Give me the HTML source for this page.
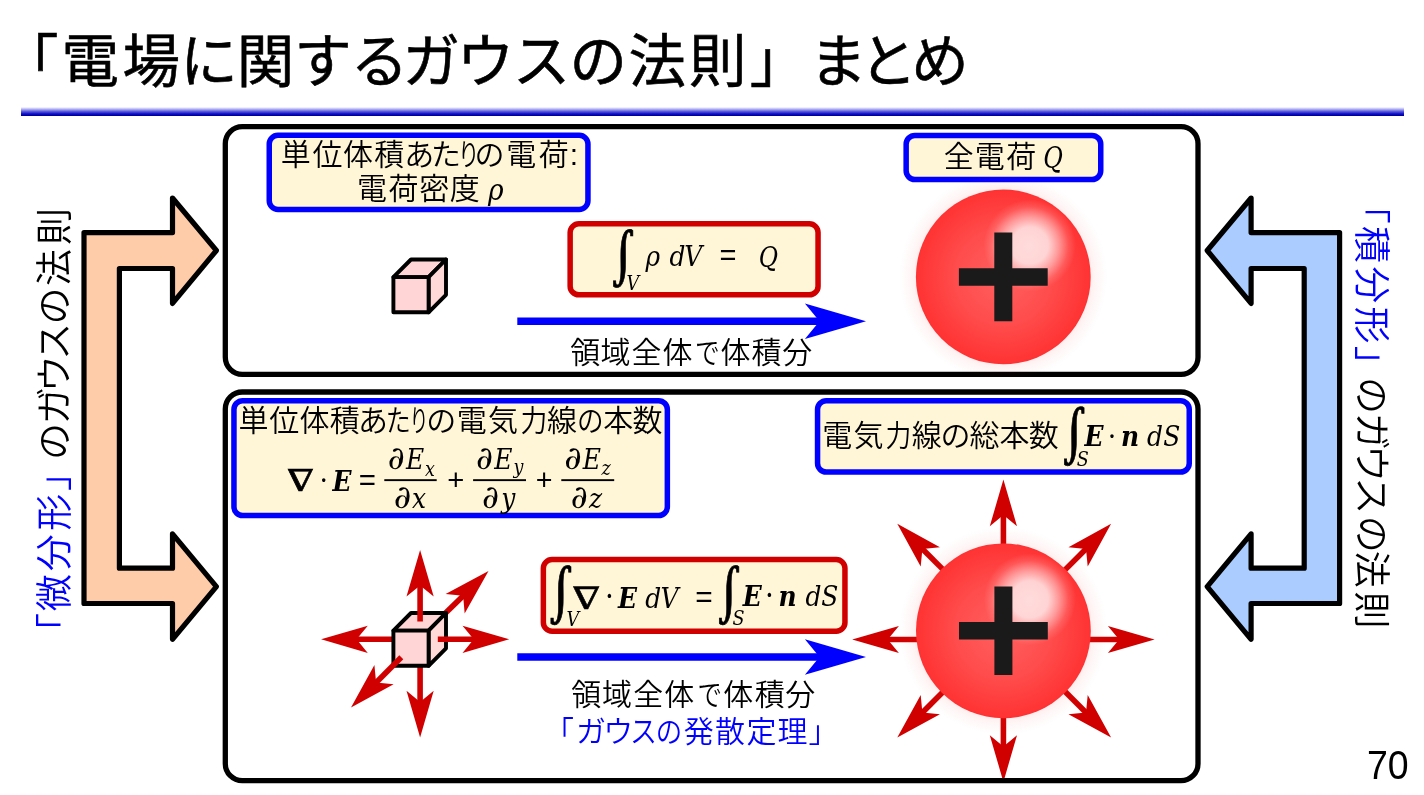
<!DOCTYPE html>
<html lang="ja"><head><meta charset="utf-8"><title>「電場に関するガウスの法則」 まとめ</title>
<style>
html,body{margin:0;padding:0;background:#fff;}
body{width:1424px;height:795px;overflow:hidden;position:relative;font-family:"Liberation Sans","Noto Sans CJK JP",sans-serif;}
svg{position:absolute;left:0;top:0;display:block;will-change:transform;}
text{font-family:"Liberation Sans","Noto Sans CJK JP",sans-serif;white-space:pre;}
.mi{font-family:"DejaVu Serif Condensed","DejaVu Serif","Liberation Serif",serif;font-style:italic;}
.mbi{font-family:"DejaVu Serif Condensed","DejaVu Serif","Liberation Serif",serif;font-style:italic;font-weight:bold;}
.mb{font-family:"DejaVu Serif Condensed","DejaVu Serif","Liberation Serif",serif;font-weight:bold;}
.mr{font-family:"DejaVu Serif Condensed","DejaVu Serif","Liberation Serif",serif;}
.mg{font-family:"DejaVu Math TeX Gyre","DejaVu Serif","Liberation Serif",serif;}
.ms{font-family:"Liberation Sans",sans-serif;}
.mlb{font-family:"Liberation Serif","DejaVu Serif",serif;font-weight:bold;}
</style></head><body>
<svg width="1424" height="795" viewBox="0 0 1424 795">
<defs>
<linearGradient id="rule" x1="0" y1="0" x2="0" y2="1">
<stop offset="0" stop-color="#ffffff"/><stop offset="0.14" stop-color="#d4d4f7"/><stop offset="0.5" stop-color="#5858dc"/><stop offset="0.76" stop-color="#1010c8"/><stop offset="0.9" stop-color="#0000b4"/><stop offset="1" stop-color="#000088"/>
</linearGradient>
<radialGradient id="ball" cx="0.5" cy="0.5" r="0.5">
<stop offset="0" stop-color="#ff6060"/><stop offset="0.55" stop-color="#ff4c4c"/><stop offset="1" stop-color="#ff3232"/>
</radialGradient>
<radialGradient id="hl" cx="0.5" cy="0.5" r="0.5">
<stop offset="0" stop-color="#ffffff" stop-opacity="0.8"/><stop offset="0.4" stop-color="#ffffff" stop-opacity="0.76"/><stop offset="0.63" stop-color="#ffffff" stop-opacity="0.45"/><stop offset="0.84" stop-color="#ffffff" stop-opacity="0.13"/><stop offset="1" stop-color="#ffffff" stop-opacity="0"/>
</radialGradient>
<radialGradient id="glow" cx="0.5" cy="0.5" r="0.5">
<stop offset="0.84" stop-color="#ff3030" stop-opacity="0.08"/><stop offset="0.9" stop-color="#ff3030" stop-opacity="0.04"/><stop offset="1" stop-color="#ff3030" stop-opacity="0"/>
</radialGradient>
<g id="sphere">
<circle cx="0" cy="0" r="104" fill="url(#glow)"/>
<circle cx="0" cy="0" r="87.4" fill="url(#ball)"/>
<circle cx="26.5" cy="-31.5" r="46" fill="url(#hl)"/>
<path d="M-44.4 -8.7 H-9 V-44.3 H9 V-8.7 H44.4 V8.8 H9 V44.3 H-9 V8.8 H-44.4 Z" fill="#1a1a1a"/>
</g>
<g id="cube" stroke="#000" stroke-width="3.9" stroke-linejoin="round" fill="#ffd5d5">
<path d="M393.4 277.1 L411 259.5 L446 259.5 L428.6 277.1 Z"/>
<path d="M428.6 277.1 L446 259.5 L446 294.8 L428.6 312.3 Z" fill="#ffd8d8"/>
<rect x="393.4" y="277.1" width="35.2" height="35.2"/>
</g>
</defs>

<text x="1.07 61.49 122.39 180.28 236.73 294.28 350.86 402.49 456.82 512.75 569.38 628.61 688.94 749.68 790 809.46 859.48 911.29" y="82.2" font-size="57.5" fill="#000" stroke="#000" stroke-width="0.6">「電場に関するガウスの法則」 まとめ</text>
<rect x="21" y="107" width="1383" height="9" fill="url(#rule)"/>
<path d="M84 232.6 L172.5 232.6 L172.5 198 L216.4 250.5 L172.5 303.4 L172.5 268.5 L119.4 268.5 L119.4 568.2 L172.5 568.2 L172.5 533.8 L216.4 586.6 L172.5 639.3 L172.5 603.5 L84 603.5 Z" fill="#ffccaa" stroke="#000" stroke-width="5.2" stroke-linejoin="round"/>
<path d="M1339.6 232.6 L1251.1 232.6 L1251.1 198 L1207.2 250.5 L1251.1 303.4 L1251.1 268.5 L1304.2 268.5 L1304.2 568.2 L1251.1 568.2 L1251.1 533.8 L1207.2 586.6 L1251.1 639.3 L1251.1 603.5 L1339.6 603.5 Z" fill="#aaccff" stroke="#000" stroke-width="5.2" stroke-linejoin="round"/>
<rect x="269.25" y="135.35" width="318.7" height="74.1" rx="8.7" ry="8.7" fill="#fff5d7" stroke="#0000ff" stroke-width="5.5"/>
<rect x="906.15" y="135.5" width="194.6" height="44.05" rx="8.7" ry="8.7" fill="#fff5d7" stroke="#0000ff" stroke-width="5.5"/>
<rect x="570.15" y="223.85" width="247.9" height="71" rx="8.7" ry="8.7" fill="#fff5d7" stroke="#d00000" stroke-width="5.5"/>
<rect x="233.95" y="400.75" width="433.4" height="114.8" rx="8.7" ry="8.7" fill="#fff5d7" stroke="#0000ff" stroke-width="5.5"/>
<rect x="817.55" y="400.65" width="371.7" height="71.4" rx="8.7" ry="8.7" fill="#fff5d7" stroke="#0000ff" stroke-width="5.5"/>
<rect x="543.35" y="559.55" width="301.6" height="71.6" rx="8.7" ry="8.7" fill="#fff5d7" stroke="#d00000" stroke-width="5.5"/>
<path d="M517.3 317.4 H826 V325 H517.3 Z" fill="#0000ff"/><path d="M866 321.2 L804.9 303.4 L819.5 321.2 L804.9 339 Z" fill="#0000ff"/>
<path d="M517.3 653.2 H826 V660.8 H517.3 Z" fill="#0000ff"/><path d="M866 657 L804.9 639.2 L819.5 657 L804.9 674.8 Z" fill="#0000ff"/>
<path d="M1083.4 639.5 L1121.1 639.5" stroke="#d00000" stroke-width="5.6" fill="none"/><path d="M1154.6 639.5 L1107.9 653.1 L1119.1 639.5 L1107.9 625.9 Z" fill="#d00000"/>
<path d="M1060.77 687.27 L1087.43 713.93" stroke="#d00000" stroke-width="5.6" fill="none"/><path d="M1111.11 737.61 L1068.48 714.21 L1086.01 712.51 L1087.71 694.98 Z" fill="#d00000"/>
<path d="M1003.4 710.7 L1003.4 748.4" stroke="#d00000" stroke-width="5.6" fill="none"/><path d="M1003.4 781.9 L989.8 735.2 L1003.4 746.4 L1017 735.2 Z" fill="#d00000"/>
<path d="M947.63 687.27 L920.97 713.93" stroke="#d00000" stroke-width="5.6" fill="none"/><path d="M897.29 737.61 L920.69 694.98 L922.39 712.51 L939.92 714.21 Z" fill="#d00000"/>
<path d="M923.4 639.5 L885.7 639.5" stroke="#d00000" stroke-width="5.6" fill="none"/><path d="M852.2 639.5 L898.9 625.9 L887.7 639.5 L898.9 653.1 Z" fill="#d00000"/>
<path d="M947.63 574.13 L920.97 547.47" stroke="#d00000" stroke-width="5.6" fill="none"/><path d="M897.29 523.79 L939.92 547.19 L922.39 548.89 L920.69 566.42 Z" fill="#d00000"/>
<path d="M1003.4 550.7 L1003.4 513" stroke="#d00000" stroke-width="5.6" fill="none"/><path d="M1003.4 479.5 L1017 526.2 L1003.4 515 L989.8 526.2 Z" fill="#d00000"/>
<path d="M1060.77 574.13 L1087.43 547.47" stroke="#d00000" stroke-width="5.6" fill="none"/><path d="M1111.11 523.79 L1087.71 566.42 L1086.01 548.89 L1068.48 547.19 Z" fill="#d00000"/>
<rect x="225.3" y="126.7" width="972.7" height="247.6" rx="17" ry="17" fill="none" stroke="#000" stroke-width="5.3"/>
<rect x="225.3" y="392" width="972.7" height="388.7" rx="17" ry="17" fill="none" stroke="#000" stroke-width="5.3"/>
<use href="#sphere" x="1003.3" y="276.9"/>
<use href="#sphere" x="1003.4" y="630.8"/>
<use href="#cube"/>
<path d="M420.1 665 L420.1 704" stroke="#d00000" stroke-width="5.6" fill="none"/><path d="M420.1 737.5 L406.5 690.8 L420.1 702 L433.7 690.8 Z" fill="#d00000"/>
<path d="M395 639.3 L354.6 639.3" stroke="#d00000" stroke-width="5.6" fill="none"/><path d="M321.1 639.3 L367.8 625.7 L356.6 639.3 L367.8 652.9 Z" fill="#d00000"/>
<path d="M444 614.6 L464.57 594.44" stroke="#d00000" stroke-width="5.6" fill="none"/><path d="M488.5 571 L464.66 613.4 L463.14 595.84 L445.62 593.97 Z" fill="#d00000"/>
<use href="#cube" y="353.5"/>
<path d="M420.1 621.5 L420.1 583.4" stroke="#d00000" stroke-width="5.6" fill="none"/><path d="M420.1 549.9 L433.7 596.6 L420.1 585.4 L406.5 596.6 Z" fill="#d00000"/>
<path d="M437.8 639.3 L475.7 639.3" stroke="#d00000" stroke-width="5.6" fill="none"/><path d="M509.2 639.3 L462.5 652.9 L473.7 639.3 L462.5 625.7 Z" fill="#d00000"/>
<path d="M401.3 657.3 L374.69 683.91" stroke="#d00000" stroke-width="5.6" fill="none"/><path d="M351 707.6 L374.41 664.96 L376.1 682.5 L393.64 684.19 Z" fill="#d00000"/>
<text x="280.68 312.38 342.9 374.15 404.17 431.1 458.11 474.6 506.13 538.65 569.73" y="165.3" font-size="30" fill="#000" font-weight="350">単位体積あた<tspan textLength="21.38" lengthAdjust="spacingAndGlyphs">り</tspan>の電荷:</text>
<text x="356.98 388.4 419.25 449.75" y="198.8" font-size="30" fill="#000" font-weight="350">電荷密度</text>
<text x="943.72 974.77 1006.25" y="167.1" font-size="30" fill="#000" font-weight="350">全電荷</text>
<text x="570.23 600.43 631.47 662.55 694.92 720.4 751.55 782.2" y="362.9" font-size="30" fill="#000" font-weight="350">領域全体<tspan textLength="24.73" lengthAdjust="spacingAndGlyphs">で</tspan>体積分</text>
<text x="571.33 602.03 633.33 664.25 697.54 723.35 754.65 785.25" y="705" font-size="30" fill="#000" font-weight="350">領域全体<tspan textLength="24.5" lengthAdjust="spacingAndGlyphs">で</tspan>体積分</text>
<text x="544.02 575.88 603.18 630 655.82 683.75 714.92 746.6 777.4 808.58" y="741.5" font-size="30" fill="#0000ff" font-weight="350">「ガウ<tspan textLength="27" lengthAdjust="spacingAndGlyphs">ス</tspan><tspan textLength="26.46" lengthAdjust="spacingAndGlyphs">の</tspan>発散定理」</text>
<text x="238.62 269.33 299.45 329.65 358.02 385.69 409.62 426.2 456.73 488.05 520.42 547.05 577.01 603.25 632.57" y="431.4" font-size="30" fill="#000" font-weight="350">単位体積あ<tspan textLength="25.06" lengthAdjust="spacingAndGlyphs">た</tspan><tspan textLength="18.97" lengthAdjust="spacingAndGlyphs">り</tspan>の電気<tspan textLength="26.82" lengthAdjust="spacingAndGlyphs">力</tspan>線<tspan textLength="26.59" lengthAdjust="spacingAndGlyphs">の</tspan>本数</text>
<text x="822.23 853.45 885.58 911.85 940.5 969.53 999.45 1028.67" y="446" font-size="30" fill="#000" font-weight="350">電気<tspan textLength="25.76" lengthAdjust="spacingAndGlyphs">力</tspan>線の総本数</text>
<g transform="rotate(-90)"><text y="67.8" font-size="37" font-weight="350"><tspan x="-649.93 -611.3 -571.25 -530.74 -490.92" fill="#0000ff">「微分形」</tspan><tspan x="-460 -424.3 -392.23 -359.65 -324.55 -285.89 -245.12" fill="#000">のガウスの法則</tspan></text></g>
<g transform="rotate(90)"><text y="-1358.2" font-size="37" font-weight="350"><tspan x="186.87 226.09 266.15 306.56 345.83" fill="#0000ff">「積分形」</tspan><tspan x="376.95 412.65 444.92 477.15 515.65 550.86 591.42" fill="#000">のガウスの法則</tspan></text></g>
<g><text><tspan class="mi" x="488.04" y="199.8" font-size="29.53">ρ</tspan></text></g>
<g><text class="mi" transform="translate(1053.5 0) scale(0.9038 1)" x="-11.24" y="168" font-size="29.39">Q</text></g>
<g><text class="mg" stroke="#000" stroke-width="0.7" transform="translate(623.15 0) scale(0.8545 1)" x="-15.77" y="273.43" font-size="53">∫</text><text><tspan class="mi" x="626.54" y="290.1" font-size="19.5">V</tspan><tspan class="mi" x="645.41" y="265.8" font-size="27.7">ρ</tspan><tspan class="mi" x="669.46" y="265.8" font-size="27.7">d</tspan><tspan class="mi" x="684.34" y="265.8" font-size="27.7">V</tspan><tspan class="ms" x="719.55" y="265.22" font-size="29.07">=</tspan></text><text class="mi" transform="translate(768.65 0) scale(0.9087 1)" x="-10.99" y="266.6" font-size="28.73">Q</text></g>
<g><text class="mr" stroke="#000" stroke-width="0.5" stroke-linejoin="miter" transform="translate(300.45 0) scale(-1.4189 1)" x="-9.46" y="491.5" font-size="30.27">∇</text><text><tspan class="mb" x="320.42" y="486.74" font-size="20.54">·</tspan><tspan class="mbi" x="332.45" y="490.6" font-size="27.7">E</tspan><tspan class="ms" x="358.83" y="489.51" font-size="29.48">=</tspan></text><text class="mi" transform="translate(396.25 0) scale(1.1334 1)" x="-7.58" y="468.72" font-size="32.27">∂</text><text><tspan class="mi" x="405.99" y="468.8" font-size="27.7">E</tspan><tspan class="mi" x="424.93" y="475.6" font-size="19.5">x</tspan></text><text class="mi" transform="translate(402.45 0) scale(1.1660 1)" x="-7.58" y="507.52" font-size="32.27">∂</text><text><tspan class="mi" x="412.12" y="507.6" font-size="27.7">x</tspan><tspan class="ms" x="447.34" y="490.46" font-size="29.28">+</tspan></text><text class="mi" transform="translate(484.65 0) scale(1.1334 1)" x="-7.58" y="468.72" font-size="32.27">∂</text><text><tspan class="mi" x="494.29" y="468.8" font-size="27.7">E</tspan><tspan class="mi" x="513.62" y="473.5" font-size="19.5">y</tspan></text><text class="mi" transform="translate(490.55 0) scale(1.1334 1)" x="-7.58" y="507.52" font-size="32.27">∂</text><text><tspan class="mi" x="501.16" y="507.6" font-size="27.7">y</tspan><tspan class="ms" x="535.87" y="490.25" font-size="28.66">+</tspan></text><text class="mi" transform="translate(572.95 0) scale(1.1660 1)" x="-7.58" y="468.72" font-size="32.27">∂</text><text><tspan class="mi" x="582.79" y="468.8" font-size="27.7">E</tspan><tspan class="mi" x="601.62" y="475.4" font-size="19.5">z</tspan></text><text class="mi" transform="translate(579.45 0) scale(1.1334 1)" x="-7.58" y="507.52" font-size="32.27">∂</text><text><tspan class="mi" x="588.99" y="507.6" font-size="27.7">z</tspan></text></g>
<rect x="384.3" y="479.2" width="52.4" height="1.9" fill="#000"/>
<rect x="473.1" y="479.2" width="52.9" height="1.9" fill="#000"/>
<rect x="561.3" y="479.2" width="52.9" height="1.9" fill="#000"/>
<g><text class="mg" stroke="#000" stroke-width="0.7" transform="translate(1074.15 0) scale(0.8401 1)" x="-16.04" y="450.87" font-size="53.91">∫</text><text><tspan class="mi" x="1076.65" y="466" font-size="19.5">S</tspan><tspan class="mbi" x="1084.6" y="446" font-size="27.7">E</tspan><tspan class="mb" x="1108.72" y="442.64" font-size="20.54">·</tspan><tspan class="mbi" x="1121.12" y="446" font-size="27.7">n</tspan><tspan class="mi" x="1147.11" y="446" font-size="27.7">d</tspan><tspan class="mi" x="1163.24" y="446" font-size="27.7">S</tspan></text></g>
<g><text class="mg" stroke="#000" stroke-width="0.7" transform="translate(561.05 0) scale(0.8542 1)" x="-16.09" y="610.02" font-size="54.09">∫</text><text><tspan class="mi" x="566.49" y="626.3" font-size="19.5">V</tspan></text><text class="mr" stroke="#000" stroke-width="0.5" stroke-linejoin="miter" transform="translate(586.15 0) scale(-1.4388 1)" x="-9.63" y="608.6" font-size="30.82">∇</text><text><tspan class="mb" x="605.9" y="604.01" font-size="21.62">·</tspan><tspan class="mbi" x="618.05" y="608.1" font-size="27.7">E</tspan><tspan class="mi" x="645.36" y="608.1" font-size="27.7">d</tspan><tspan class="mi" x="660.39" y="608.1" font-size="27.7">V</tspan><tspan class="ms" x="695.21" y="606.69" font-size="29.9">=</tspan></text><text class="mg" stroke="#000" stroke-width="0.7" transform="translate(729.2 0) scale(0.8330 1)" x="-16.09" y="610.02" font-size="54.09">∫</text><text><tspan class="mi" x="732.6" y="625.2" font-size="19.5">S</tspan><tspan class="mbi" x="742.7" y="605.5" font-size="27.7">E</tspan><tspan class="mb" x="766.1" y="602.51" font-size="21.62">·</tspan><tspan class="mbi" x="778.52" y="605.5" font-size="27.7">n</tspan><tspan class="mi" x="805.41" y="605.5" font-size="27.7">d</tspan><tspan class="mi" x="821.34" y="605.5" font-size="27.7">S</tspan></text></g>
<text x="1367" y="778.7" font-size="40" fill="#000" textLength="41.7" lengthAdjust="spacingAndGlyphs">70</text>
</svg>
</body></html>
